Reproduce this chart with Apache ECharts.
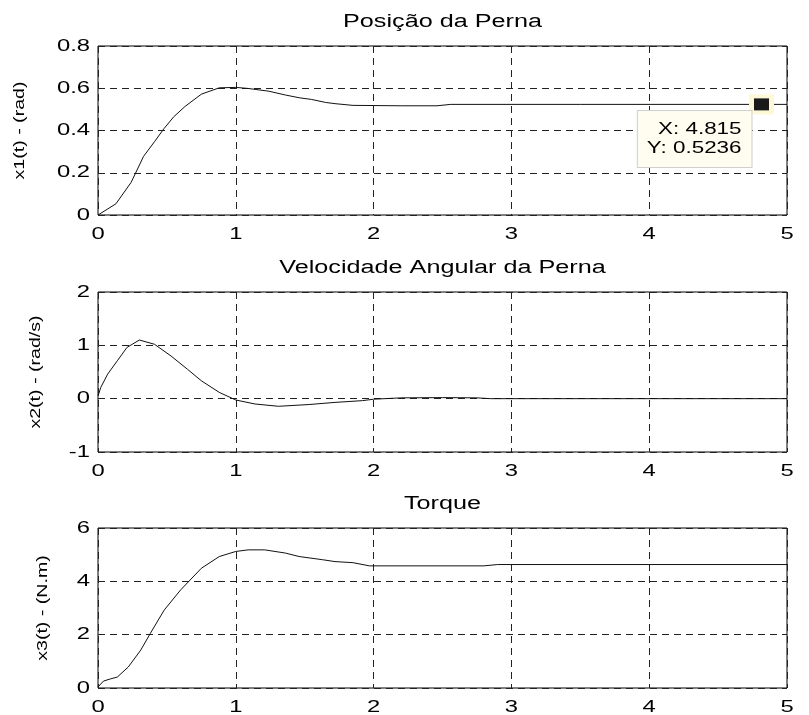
<!DOCTYPE html>
<html>
<head>
<meta charset="utf-8">
<script src="https://cdn.jsdelivr.net/npm/echarts@6/dist/echarts.min.js"></script>
<style>
  html, body { margin: 0; padding: 0; background: #fff; }
  #chart { width: 809px; height: 715px; }
</style>
</head>
<body>
<div id="chart"></div>
<script>
// Simulation results: leg position, angular velocity and torque over time (s)
const tPos = [0, 0.13, 0.24, 0.29, 0.33, 0.41, 0.48, 0.55, 0.63, 0.75, 0.88, 1.0, 1.09, 1.24, 1.36, 1.46, 1.55, 1.65, 1.72, 1.85, 2.2, 2.46, 2.56, 3.5, 4.815, 5];
const x1 = [0, 0.053, 0.154, 0.222, 0.277, 0.347, 0.41, 0.465, 0.513, 0.572, 0.602, 0.604, 0.599, 0.586, 0.568, 0.555, 0.547, 0.533, 0.527, 0.519, 0.517, 0.517, 0.5236, 0.5236, 0.5236, 0.5236];

const tVel = [0, 0.02, 0.07, 0.14, 0.21, 0.3, 0.41, 0.53, 0.65, 0.75, 0.88, 1.0, 1.14, 1.31, 1.53, 1.72, 1.92, 2.0, 2.2, 2.5, 2.75, 2.85, 5];
const x2 = [0.05, 0.21, 0.46, 0.71, 0.96, 1.1, 1.02, 0.8, 0.55, 0.335, 0.118, -0.025, -0.1, -0.143, -0.11, -0.07, -0.037, -0.01, 0.015, 0.02, 0.015, 0, 0];

const tTorque = [0, 0.04, 0.09, 0.14, 0.22, 0.31, 0.38, 0.48, 0.6, 0.75, 0.88, 1.0, 1.09, 1.21, 1.36, 1.46, 1.63, 1.72, 1.85, 1.97, 2.8, 2.9, 5];
const x3 = [0.04, 0.26, 0.34, 0.41, 0.79, 1.42, 2.05, 2.92, 3.68, 4.49, 4.93, 5.12, 5.18, 5.18, 5.06, 4.93, 4.81, 4.74, 4.7, 4.58, 4.58, 4.63, 4.63];

const panelTitles = ['Posição da Perna', 'Velocidade Angular da Perna', 'Torque'];
const yNames = ['x1(t) - (rad)', 'x2(t) - (rad/s)', 'x3(t) - (N.m)'];
const yRanges = [[0, 0.8, 0.2], [-1, 2, 1], [0, 6, 2]];
const xRange = [0, 5, 1];

// Data cursor on the position curve
const tipPoint = [4.815, 0.5236];

// Wide glyphs: every text run is stretched horizontally by a fixed factor
const SX = 1.4;
(function () {
  const proto = CanvasRenderingContext2D.prototype;
  const fill = proto.fillText, stroke = proto.strokeText, measure = proto.measureText;
  proto.fillText = function (t, x, y, w) {
    this.save(); this.translate(x, y); this.scale(SX, 1);
    if (w === undefined) fill.call(this, t, 0, 0); else fill.call(this, t, 0, 0, w / SX);
    this.restore();
  };
  proto.strokeText = function (t, x, y, w) {
    this.save(); this.translate(x, y); this.scale(SX, 1);
    if (w === undefined) stroke.call(this, t, 0, 0); else stroke.call(this, t, 0, 0, w / SX);
    this.restore();
  };
  proto.measureText = function (t) {
    const m = measure.call(this, t);
    return {
      width: m.width * SX,
      actualBoundingBoxAscent: m.actualBoundingBoxAscent,
      actualBoundingBoxDescent: m.actualBoundingBoxDescent,
      actualBoundingBoxLeft: m.actualBoundingBoxLeft * SX,
      actualBoundingBoxRight: m.actualBoundingBoxRight * SX,
      fontBoundingBoxAscent: m.fontBoundingBoxAscent,
      fontBoundingBoxDescent: m.fontBoundingBoxDescent
    };
  };
})();

const FONT = '"Liberation Sans", Arial, Helvetica, sans-serif';
const grids = [
  { top: 46, height: 169 },
  { top: 292, height: 160 },
  { top: 528, height: 160 }
];
const nameGaps = [68, 52, 45];
const titleY = [22, 268, 504];

const pairs = (ts, vs) => ts.map((t, i) => [t, vs[i]]);
const gridLine = { show: true, lineStyle: { color: '#222', width: 1, type: [7, 5] } };

const option = {
  animation: false,
  backgroundColor: '#fff',
  grid: grids.map(g => ({
    left: 98, right: 22, top: g.top, height: g.height,
    show: true, borderColor: '#000', borderWidth: 1, backgroundColor: 'transparent',
    containLabel: false, outerBoundsMode: 'none'
  })),
  xAxis: grids.map((g, i) => ({
    type: 'value', gridIndex: i, min: xRange[0], max: xRange[1], interval: xRange[2],
    axisLine: { show: false }, axisTick: { show: false },
    axisLabel: { color: '#000', fontSize: 17, fontFamily: FONT, margin: 7 },
    splitLine: gridLine
  })),
  yAxis: grids.map((g, i) => ({
    type: 'value', gridIndex: i, min: yRanges[i][0], max: yRanges[i][1], interval: yRanges[i][2],
    name: yNames[i], nameLocation: 'middle', nameGap: nameGaps[i],
    nameTextStyle: { color: '#000', fontSize: 14, fontFamily: FONT },
    axisLine: { show: false }, axisTick: { show: false },
    axisLabel: { color: '#000', fontSize: 17, fontFamily: FONT, margin: 8 },
    splitLine: gridLine
  })),
  graphic: panelTitles.map((txt, i) => ({
    type: 'text', left: null, x: 442.5, y: titleY[i], silent: true,
    style: {
      text: txt, fill: '#000', fontSize: 18, fontFamily: FONT,
      align: 'center', verticalAlign: 'middle', textAlign: 'center', textVerticalAlign: 'middle'
    }
  })),
  series: [
    {
      type: 'line', xAxisIndex: 0, yAxisIndex: 0, data: pairs(tPos, x1),
      showSymbol: false, lineStyle: { color: '#111', width: 1 }, z: 3,
      markPoint: {
        silent: true, animation: false,
        data: [
          { coord: tipPoint, symbol: 'rect', symbolSize: [25, 20],
            itemStyle: { color: '#FFF8D6' }, label: { show: false } },
          { coord: tipPoint, symbol: 'rect', symbolSize: [15, 12],
            itemStyle: { color: '#1a1a1a' },
            label: {
              show: true, formatter: 'X: ' + tipPoint[0] + '\nY: ' + tipPoint[1],
              position: [-2.5, 12.7], align: 'right', verticalAlign: 'top',
              color: '#000', fontSize: 16, fontFamily: FONT, lineHeight: 19,
              backgroundColor: '#FEFDF0', borderColor: '#CFCFCF', borderWidth: 1,
              padding: [9, 10, 9, 9]
            } }
        ]
      }
    },
    {
      type: 'line', xAxisIndex: 1, yAxisIndex: 1, data: pairs(tVel, x2),
      showSymbol: false, lineStyle: { color: '#111', width: 1 }, z: 3
    },
    {
      type: 'line', xAxisIndex: 2, yAxisIndex: 2, data: pairs(tTorque, x3),
      showSymbol: false, lineStyle: { color: '#111', width: 1 }, z: 3
    }
  ]
};

const chart = echarts.init(document.getElementById('chart'), null, { renderer: 'canvas' });
chart.setOption(option);
</script>
</body>
</html>
